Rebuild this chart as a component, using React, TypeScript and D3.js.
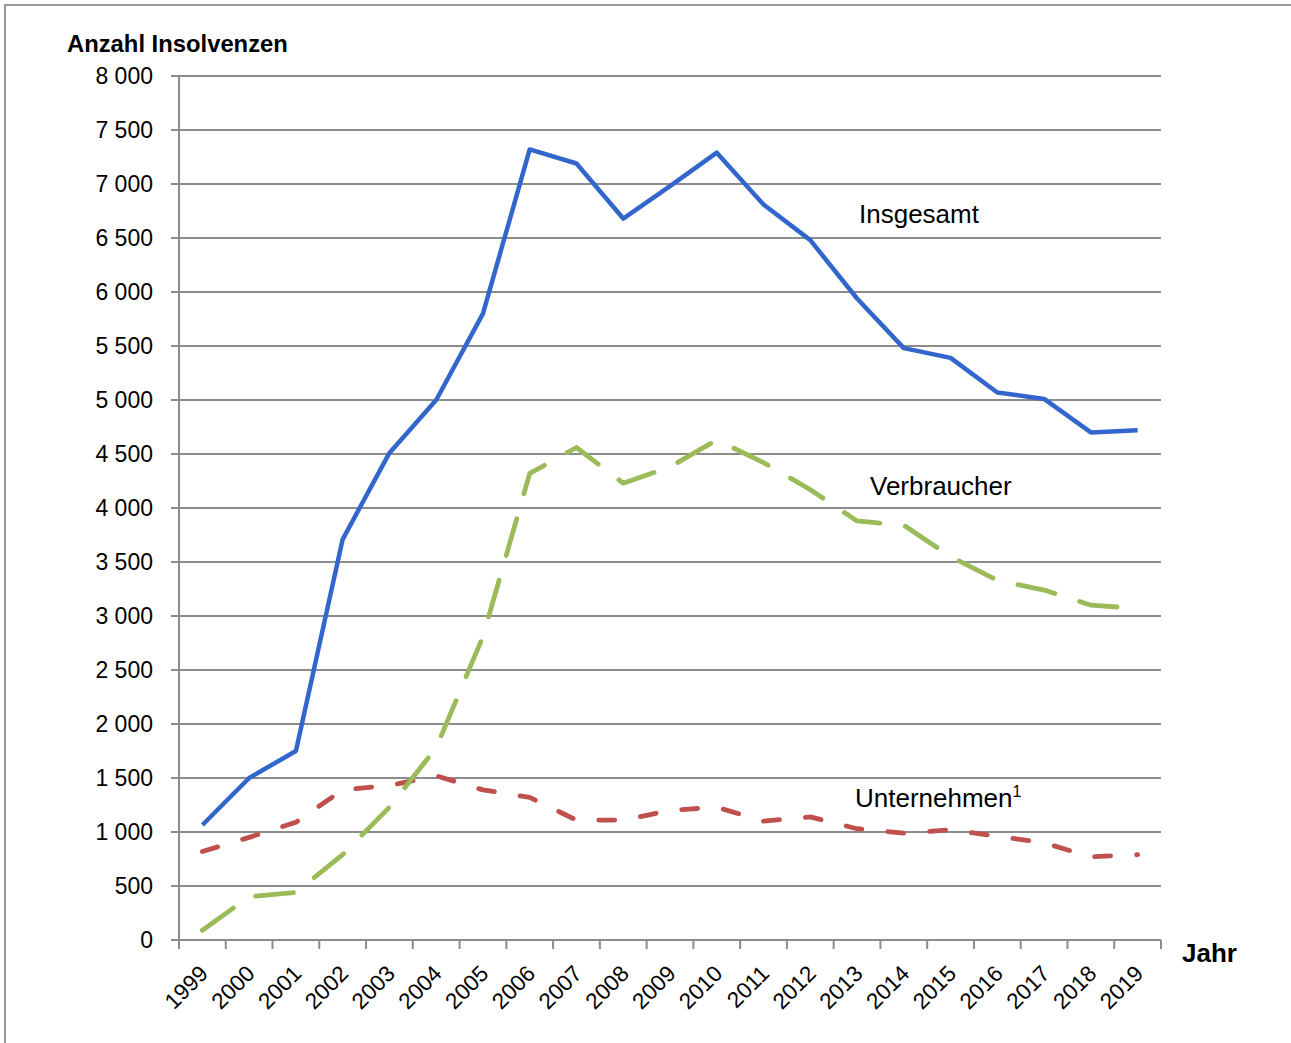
import React from "react";
import * as d3 from "d3";

const years = ["1999","2000","2001","2002","2003","2004","2005","2006","2007","2008","2009","2010","2011","2012","2013","2014","2015","2016","2017","2018","2019"];
const insgesamt = [1065,1500,1750,3710,4510,5000,5800,7320,7190,6680,6980,7290,6810,6480,5940,5480,5390,5070,5010,4700,4720];
const verbraucher = [90,400,440,790,1230,1780,2810,4320,4560,4230,4380,4630,4420,4170,3880,3840,3550,3330,3240,3100,3070];
const unternehmen = [820,950,1090,1390,1430,1520,1390,1320,1110,1110,1200,1230,1100,1140,1030,990,1020,960,900,770,790];
const yTicks = [0,500,1000,1500,2000,2500,3000,3500,4000,4500,5000,5500,6000,6500,7000,7500,8000];

const W = 1291, H = 1043;
const left = 179, right = 1161, top = 76, bottom = 940;
const font = "'Liberation Sans', Arial, sans-serif";

function fmt(v: number) {
  const s = String(v);
  return s.length > 3 ? s.slice(0, s.length - 3) + " " + s.slice(-3) : s;
}

export default function App() {
  const x = d3.scaleBand().domain(years).range([left, right]);
  const y = d3.scaleLinear().domain([0, 8000]).range([bottom, top]);
  const line = d3.line<number>()
    .x((_, i) => (x(years[i]) as number) + x.bandwidth() / 2)
    .y((d) => y(d));

  return (
    <svg width={W} height={H} style={{ position: "absolute", left: 0, top: 0, background: "#fff" }}>
      <rect x={5} y={5} width={W + 20} height={H + 20} fill="#fff" stroke="#999" strokeWidth={2} />
      {yTicks.map((t) => (
        <g key={t}>
          <line x1={left - 8} x2={right} y1={y(t)} y2={y(t)} stroke="#8c8c8c" strokeWidth={2} />
          <text x={153} y={y(t) + 8} textAnchor="end" fontFamily={font} fontSize={23} fill="#000">{fmt(t)}</text>
        </g>
      ))}
      <line x1={left} x2={left} y1={top} y2={bottom} stroke="#8c8c8c" strokeWidth={2} />
      {years.map((yr, i) => (
        <line key={"t" + yr} x1={left + i * x.bandwidth()} x2={left + i * x.bandwidth()} y1={bottom} y2={bottom + 9} stroke="#8c8c8c" strokeWidth={2} />
      ))}
      <line x1={right} x2={right} y1={bottom} y2={bottom + 9} stroke="#8c8c8c" strokeWidth={2} />
      {years.map((yr) => {
        const cx = (x(yr) as number) + x.bandwidth() / 2;
        return (
          <text key={yr} transform={`translate(${cx + 7},${bottom + 35}) rotate(-45)`} textAnchor="end" fontFamily={font} fontSize={22.5} fill="#000">{yr}</text>
        );
      })}
      <path d={line(unternehmen) || ""} fill="none" stroke="#C0504D" strokeWidth={4.8} strokeLinecap="round" strokeLinejoin="round" strokeDasharray="16 26" />
      <path d={line(verbraucher) || ""} fill="none" stroke="#9BBB59" strokeWidth={4.8} strokeLinecap="round" strokeLinejoin="round" strokeDasharray="38 26" />
      <path d={line(insgesamt) || ""} fill="none" stroke="#3366CC" strokeWidth={4.5} strokeLinejoin="round" />
      <text x={67} y={52} fontFamily={font} fontSize={23.8} fontWeight="bold" fill="#000">Anzahl Insolvenzen</text>
      <text x={1182} y={962} fontFamily={font} fontSize={26} fontWeight="bold" fill="#000">Jahr</text>
      <text x={859} y={223} fontFamily={font} fontSize={26} fill="#000">Insgesamt</text>
      <text x={870} y={495} fontFamily={font} fontSize={26} fill="#000">Verbraucher</text>
      <text x={855} y={807} fontFamily={font} fontSize={26} fill="#000">Unternehmen<tspan fontSize={16} dy={-10}>1</tspan></text>
    </svg>
  );
}
